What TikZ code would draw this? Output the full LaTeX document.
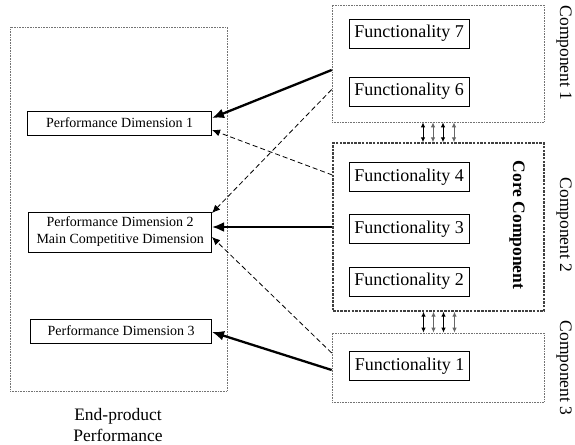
\documentclass[tikz,border=0pt]{standalone}
\usepackage{fontspec}
\setmainfont{Liberation Serif}
\usetikzlibrary{arrows.meta,calc}
\begin{document}
\begin{tikzpicture}[x=1pt,y=-1pt,
  outerbox/.style={draw=black!55,densely dotted,line width=0.6pt,inner sep=0pt},
  corebox/.style={draw=black!75,dashed,dash pattern=on 2.5pt off 1.2pt,line width=1.3pt,inner sep=0pt},
  pdbox/.style={draw,line width=0.7pt,inner sep=0pt,align=center,font=\fontsize{14}{17}\selectfont},
  fbox/.style={draw,line width=0.7pt,inner sep=0pt,minimum width=120pt,minimum height=29pt,font=\fontsize{18}{20}\selectfont},
  lbl/.style={font=\fontsize{17.5}{21}\selectfont,inner sep=0pt},
  strong/.style={line width=2.3pt,-{Latex[length=12pt,width=10pt]}},
  weak/.style={line width=0.8pt,dash pattern=on 5pt off 3pt,-{Latex[length=8pt,width=7pt]}},
  link/.style={line width=1pt,{Latex[length=5pt,width=4.5pt]}-{Latex[length=5pt,width=4.5pt]}}
]
\useasboundingbox (0,0) rectangle (575,444);
% left container
\node[outerbox,minimum width=217pt,minimum height=364pt] (perf) at (118.5,209) {};
\node[pdbox,minimum width=184pt,minimum height=24pt,anchor=east] (pd1) at (212,123) {Performance Dimension 1};
\node[pdbox,minimum width=183pt,minimum height=40pt,anchor=east] (pd2) at (212,232) {Performance Dimension 2\\Main Competitive Dimension};
\node[pdbox,minimum width=181pt,minimum height=24pt,anchor=east] (pd3) at (212,331) {Performance Dimension 3};
\node[lbl,align=center] (endp) at (118,425) {End-product\\Performance};
% components
\node[outerbox,minimum width=212pt,minimum height=117pt] (c1) at (438,63.5) {};
\node[corebox,minimum width=211pt,minimum height=168pt] (core) at (438.5,227) {};
\node[outerbox,minimum width=212pt,minimum height=69pt] (c3) at (438,367.5) {};
\node[fbox] (f7) at (409,33.5) {Functionality 7};
\node[fbox] (f6) at (409,91.5) {Functionality 6};
\node[fbox] (f4) at (409,177) {Functionality 4};
\node[fbox] (f3) at (409,229) {Functionality 3};
\node[fbox] (f2) at (409,281.5) {Functionality 2};
\node[fbox] (f1) at (409.5,366) {Functionality 1};
\node[lbl,rotate=-90,font=\fontsize{17.5}{21}\selectfont\bfseries] (corelbl) at (517,225) {Core Component};
\node[lbl,rotate=-90] (c1lbl) at (564,53) {Component 1};
\node[lbl,rotate=-90] (c2lbl) at (564,225) {Component 2};
\node[lbl,rotate=-90] (c3lbl) at (564,368) {Component 3};
% links between components
\foreach \dx/\col in {-15/black,-5/black!60,5/black,16/black!60}{
  \draw[link,draw=\col] ([xshift=\dx pt]c1.south) -- ([xshift=\dx pt]c1.south |- core.north);
  \draw[link,draw=\col] ([xshift=\dx pt]core.south) -- ([xshift=\dx pt]core.south |- c3.north);
}
% impacts
\draw[strong] ([yshift=-6.5pt]c1.west) -- ([yshift=5pt]pd1.east);
\draw[weak] ([yshift=-26pt]c1.west) -- ([yshift=19pt]pd2.east);
\draw[weak] ([yshift=52pt]core.west) -- ([yshift=-7pt]pd1.east);
\draw[strong] (core.west) -- ([yshift=5pt]pd2.east);
\draw[weak] ([yshift=14.5pt]c3.west) -- ([yshift=-5pt]pd2.east);
\draw[strong] ([yshift=-2.5pt]c3.west) -- ([yshift=-1pt]pd3.east);
\end{tikzpicture}
\end{document}
